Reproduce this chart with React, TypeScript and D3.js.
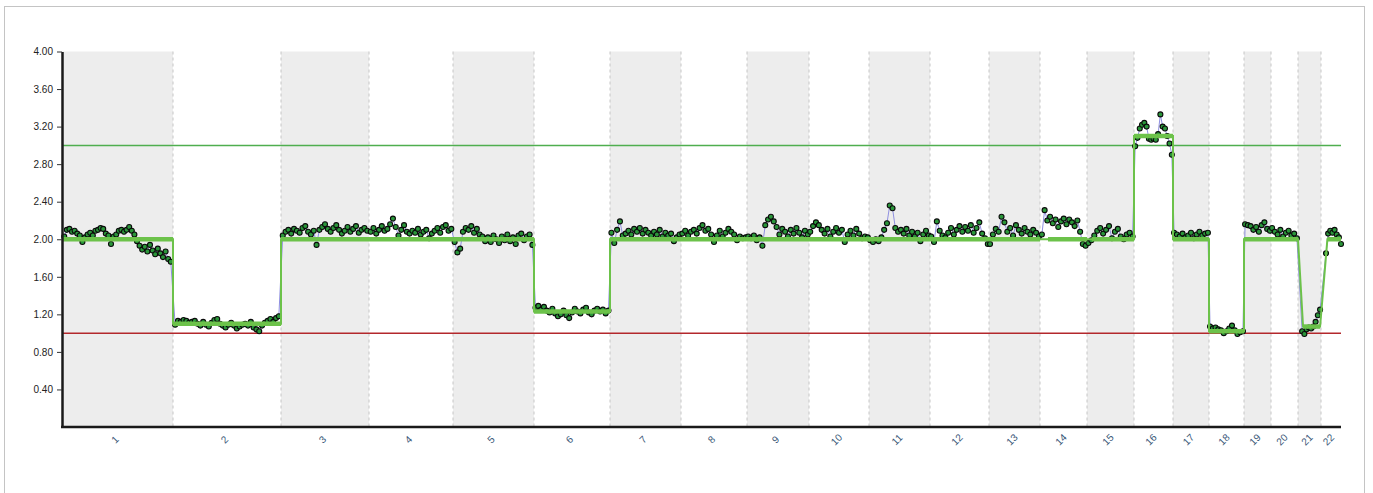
import React, { useEffect, useRef } from "react";
import * as d3 from "d3";

// chromosome names and their relative span on the genome axis
const chromosomes = ["1", "2", "3", "4", "5", "6", "7", "8", "9", "10", "11", "12", "13", "14", "15", "16", "17", "18", "19", "20", "21", "22"];
const chromSpan = [111, 108, 88, 84, 81, 76, 71, 66, 62, 60, 61, 59, 51, 47, 47, 39, 36, 35, 27, 27, 23, 20];

// part of each chromosome that carries probes (fraction of its span)
const probeFrom = [0.02, 0.02, 0.02, 0.02, 0.02, 0.02, 0.02, 0.02, 0.02, 0.02, 0.02, 0.02, 0.02, 0.04, 0.03, 0.03, 0.03, 0.03, 0.04, 0.04, 0.18, 0.25];
const probeTo = [0.98, 0.98, 0.98, 0.98, 0.98, 0.98, 0.98, 0.98, 0.98, 0.98, 0.98, 0.98, 0.98, 0.97, 0.97, 0.97, 0.97, 0.97, 0.96, 0.96, 0.96, 1.0];

// copy number ratio of each probe, per chromosome
const probeRatios: number[][] = [
  [2.03, 2.10, 2.11, 2.08, 2.09, 2.06, 2.04, 1.97, 2.02, 2.05, 2.07, 2.04, 2.09, 2.10, 2.12, 2.11, 2.06, 2.04, 1.95, 2.03, 2.05, 2.09, 2.10, 2.08, 2.10, 2.13, 2.09, 2.05, 1.98, 1.93, 1.89, 1.92, 1.87, 1.94, 1.88, 1.84, 1.90, 1.85, 1.81, 1.87, 1.79, 1.76],
  [1.09, 1.13, 1.12, 1.14, 1.13, 1.11, 1.12, 1.13, 1.10, 1.08, 1.12, 1.09, 1.07, 1.11, 1.14, 1.15, 1.10, 1.08, 1.06, 1.09, 1.11, 1.08, 1.05, 1.07, 1.09, 1.10, 1.08, 1.12, 1.06, 1.04, 1.02, 1.08, 1.11, 1.13, 1.15, 1.12, 1.16, 1.18],
  [2.04, 2.08, 2.10, 2.06, 2.11, 2.09, 2.07, 2.12, 2.14, 2.08, 2.05, 2.09, 1.94, 2.10, 2.13, 2.16, 2.11, 2.08, 2.12, 2.15, 2.10, 2.06, 2.09, 2.13, 2.08, 2.11, 2.14, 2.07, 2.10, 2.12, 2.09],
  [2.08, 2.12, 2.06, 2.10, 2.14, 2.09, 2.11, 2.16, 2.22, 2.13, 2.04, 2.10, 2.15, 2.08, 2.06, 2.09, 2.07, 2.11, 2.05, 2.08, 2.10, 2.01, 2.06, 2.09, 2.12, 2.07, 2.13, 2.15, 2.09, 2.11],
  [1.97, 1.86, 1.90, 2.08, 2.12, 2.10, 2.14, 2.07, 2.11, 2.05, 2.03, 1.98, 2.02, 1.97, 2.04, 2.00, 1.96, 2.03, 1.99, 2.05, 1.98, 2.02, 1.95, 2.04, 2.06, 1.99, 2.03, 2.05, 1.94],
  [1.27, 1.29, 1.25, 1.28, 1.24, 1.22, 1.26, 1.21, 1.18, 1.20, 1.24, 1.19, 1.16, 1.22, 1.26, 1.23, 1.21, 1.25, 1.27, 1.22, 1.20, 1.24, 1.26, 1.23, 1.25, 1.21, 1.24],
  [2.07, 1.96, 2.10, 2.19, 2.04, 2.06, 2.09, 2.05, 2.11, 2.08, 2.12, 2.06, 2.10, 2.07, 2.04, 2.08, 2.05, 2.10, 2.03, 2.07, 2.04, 2.06, 1.98, 2.02, 2.05],
  [2.06, 2.09, 2.04, 2.08, 2.10, 2.06, 2.12, 2.15, 2.09, 2.11, 2.05, 1.97, 2.04, 2.09, 2.03, 2.07, 2.11, 2.08, 2.05, 1.99, 2.03, 2.01, 2.02],
  [2.03, 2.01, 2.04, 1.99, 2.02, 1.93, 2.15, 2.21, 2.24, 2.19, 2.13, 2.05, 2.11, 2.08, 2.03, 2.10, 2.06, 2.12, 2.07, 2.02, 2.09, 2.05],
  [2.08, 2.14, 2.18, 2.15, 2.10, 2.06, 2.11, 2.03, 2.08, 2.12, 2.07, 2.10, 1.97, 2.05, 2.09, 2.04, 2.11, 2.06, 2.01, 2.03, 2.02],
  [1.99, 1.97, 2.00, 1.98, 2.02, 2.10, 2.17, 2.36, 2.33, 2.12, 2.08, 2.10, 2.06, 2.11, 2.04, 2.08, 2.03, 2.07, 1.98, 2.05, 2.09, 2.04],
  [2.03, 1.97, 2.19, 2.09, 2.04, 2.02, 2.07, 2.12, 2.05, 2.10, 2.14, 2.08, 2.13, 2.09, 2.15, 2.07, 2.12, 2.18, 2.06, 2.01, 1.95],
  [1.95, 2.05, 2.11, 2.08, 2.24, 2.18, 2.08, 2.12, 2.04, 2.15, 2.10, 2.06, 2.12, 2.08, 2.05, 2.10, 2.07, 2.03],
  [2.05, 2.31, 2.20, 2.24, 2.17, 2.21, 2.13, 2.19, 2.22, 2.16, 2.21, 2.18, 2.14, 2.20, 2.08, 1.95, 1.93],
  [1.96, 1.99, 2.04, 2.09, 2.12, 2.06, 2.10, 2.14, 2.01, 2.08, 2.11, 2.03, 2.00, 2.05, 2.07, 2.03],
  [2.99, 3.08, 3.18, 3.22, 3.24, 3.20, 3.07, 3.06, 3.07, 3.06, 3.12, 3.33, 3.20, 3.18, 3.10, 3.02, 2.90],
  [2.07, 2.05, 2.03, 2.06, 2.02, 2.04, 2.07, 2.01, 2.05, 2.08, 2.04, 2.06, 2.07],
  [1.07, 1.05, 1.06, 1.04, 1.03, 1.00, 1.02, 1.05, 1.08, 1.03, 0.99, 1.01, 1.02],
  [2.16, 2.15, 2.14, 2.10, 2.13, 2.08, 2.15, 2.18, 2.11, 2.09],
  [2.12, 2.08, 2.05, 2.10, 2.03, 2.07, 2.09, 2.04, 2.06, 2.01],
  [1.02, 0.99, 1.04, 1.06, 1.05, 1.07, 1.12, 1.19, 1.25],
  [1.85, 2.06, 2.09, 2.07, 2.10, 2.05, 2.02, 1.95],
];

// called segments: chromosome, start / end as fraction of the chromosome, copy number
const segments = [
  { chrom: "1", from: 0, to: 1, cn: 2.0 },
  { chrom: "2", from: 0, to: 1, cn: 1.1 },
  { chrom: "3", from: 0, to: 1, cn: 2.0 },
  { chrom: "4", from: 0, to: 1, cn: 2.0 },
  { chrom: "5", from: 0, to: 1, cn: 2.0 },
  { chrom: "6", from: 0, to: 1, cn: 1.23 },
  { chrom: "7", from: 0, to: 1, cn: 2.0 },
  { chrom: "8", from: 0, to: 1, cn: 2.0 },
  { chrom: "9", from: 0, to: 1, cn: 2.0 },
  { chrom: "10", from: 0, to: 1, cn: 2.0 },
  { chrom: "11", from: 0, to: 1, cn: 2.0 },
  { chrom: "12", from: 0, to: 1, cn: 2.0 },
  { chrom: "13", from: 0, to: 1, cn: 2.0 },
  { chrom: "14", from: 0.17, to: 1, cn: 2.0 },
  { chrom: "15", from: 0.1, to: 1, cn: 2.0 },
  { chrom: "16", from: 0, to: 1, cn: 3.1 },
  { chrom: "17", from: 0, to: 1, cn: 2.0 },
  { chrom: "18", from: 0, to: 1, cn: 1.02 },
  { chrom: "19", from: 0, to: 1, cn: 2.0 },
  { chrom: "20", from: 0, to: 1, cn: 2.0 },
  { chrom: "21", from: 0.22, to: 0.96, cn: 1.07 },
  { chrom: "22", from: 0.32, to: 1, cn: 2.0 },
];

const yTicks = [0.4, 0.8, 1.2, 1.6, 2.0, 2.4, 2.8, 3.2, 3.6, 4.0];
const gainLine = 3.0;
const lossLine = 1.0;

const App: React.FC = () => {
  const svgRef = useRef<SVGSVGElement | null>(null);

  useEffect(() => {
    if (!svgRef.current) return;

    const width = 1373;
    const height = 493;
    const margin = { top: 51.5, right: 32, bottom: 66, left: 62 };
    const font = "Arial, 'Liberation Sans', sans-serif";

    d3.select(svgRef.current).selectAll("*").remove();
    const svg = d3
      .select(svgRef.current)
      .attr("width", width)
      .attr("height", height);

    // outer frame
    svg
      .append("rect")
      .attr("x", 4.5)
      .attr("y", 6.5)
      .attr("width", 1360)
      .attr("height", 520)
      .attr("fill", "white")
      .attr("stroke", "#c4c4c4");

    const total = d3.sum(chromSpan);
    const offsets = [0, ...d3.cumsum(chromSpan)];

    const xScale = d3
      .scaleLinear()
      .domain([0, total])
      .range([margin.left, width - margin.right]);

    const yScale = d3
      .scaleLinear()
      .domain([0, 4])
      .range([height - margin.bottom, margin.top]);

    const chromX = (name: string, frac: number) => {
      const i = chromosomes.indexOf(name);
      return xScale(offsets[i] + frac * chromSpan[i]);
    };

    // alternating chromosome bands
    svg
      .selectAll(".band")
      .data(chromosomes)
      .enter()
      .append("rect")
      .attr("x", (_, i) => xScale(offsets[i]))
      .attr("y", yScale(4))
      .attr("width", (_, i) => xScale(offsets[i + 1]) - xScale(offsets[i]))
      .attr("height", yScale(0) - yScale(4))
      .attr("fill", (_, i) => (i % 2 === 0 ? "#ededed" : "none"));

    // dotted separators
    svg
      .selectAll(".sep")
      .data(offsets.slice(1, -1))
      .enter()
      .append("line")
      .attr("x1", (d) => xScale(d))
      .attr("x2", (d) => xScale(d))
      .attr("y1", yScale(4))
      .attr("y2", yScale(0))
      .attr("stroke", "#c6c6c6")
      .attr("stroke-width", 1)
      .attr("stroke-dasharray", "3,3");

    // gain / loss reference lines
    svg
      .append("line")
      .attr("x1", xScale(0))
      .attr("x2", xScale(total))
      .attr("y1", yScale(gainLine))
      .attr("y2", yScale(gainLine))
      .attr("stroke", "#4fae4f")
      .attr("stroke-width", 1.5);
    svg
      .append("line")
      .attr("x1", xScale(0))
      .attr("x2", xScale(total))
      .attr("y1", yScale(lossLine))
      .attr("y2", yScale(lossLine))
      .attr("stroke", "#b3282c")
      .attr("stroke-width", 1.5);

    // probes
    const probes: [number, number][] = [];
    probeRatios.forEach((vals, i) => {
      const n = vals.length;
      vals.forEach((v, j) => {
        const frac = probeFrom[i] + ((probeTo[i] - probeFrom[i]) * j) / Math.max(1, n - 1);
        probes.push([chromX(chromosomes[i], frac), yScale(v)]);
      });
    });

    svg
      .append("path")
      .attr("d", d3.line()(probes))
      .attr("fill", "none")
      .attr("stroke", "#8f8fe0")
      .attr("stroke-width", 1);

    svg
      .selectAll(".probe")
      .data(probes)
      .enter()
      .append("circle")
      .attr("cx", (d) => d[0])
      .attr("cy", (d) => d[1])
      .attr("r", 2.5)
      .attr("fill", "#2a963a")
      .attr("stroke", "#0a0a0a")
      .attr("stroke-width", 1.1);

    // segment connectors (thin) and segments (thick)
    const segPts: [number, number][] = [];
    segments.forEach((s) => {
      segPts.push([chromX(s.chrom, s.from), yScale(s.cn)]);
      segPts.push([chromX(s.chrom, s.to), yScale(s.cn)]);
    });
    svg
      .append("path")
      .attr("d", d3.line()(segPts))
      .attr("fill", "none")
      .attr("stroke", "#6cc24a")
      .attr("stroke-width", 2);

    svg
      .selectAll(".seg")
      .data(segments)
      .enter()
      .append("line")
      .attr("x1", (d) => chromX(d.chrom, d.from))
      .attr("x2", (d) => chromX(d.chrom, d.to))
      .attr("y1", (d) => yScale(d.cn))
      .attr("y2", (d) => yScale(d.cn))
      .attr("stroke", "#6cc24a")
      .attr("stroke-width", 4.5);

    // y axis
    const yAxis = d3
      .axisLeft(yScale)
      .tickValues(yTicks)
      .tickFormat(d3.format(".2f"))
      .tickSize(5)
      .tickPadding(4)
      .tickSizeOuter(0);
    const gy = svg
      .append("g")
      .attr("transform", `translate(${margin.left}, 0)`)
      .call(yAxis);
    gy.select(".domain").attr("stroke", "#1a1a1a").attr("stroke-width", 2.5);
    gy.selectAll(".tick line").attr("stroke", "#333");
    gy.selectAll(".tick text")
      .attr("fill", "#222")
      .style("font-family", font)
      .style("font-size", "10px");

    // x axis line
    svg
      .append("line")
      .attr("x1", margin.left - 1)
      .attr("x2", xScale(total))
      .attr("y1", yScale(0))
      .attr("y2", yScale(0))
      .attr("stroke", "#1a1a1a")
      .attr("stroke-width", 2.5);

    // chromosome labels
    svg
      .selectAll(".xlabel")
      .data(chromosomes)
      .enter()
      .append("text")
      .attr("transform", (_, i) => {
        const cx = xScale(offsets[i] + chromSpan[i] / 2);
        return `translate(${cx}, ${yScale(0) + 15}) rotate(-45)`;
      })
      .attr("text-anchor", "middle")
      .attr("fill", "#3a5878")
      .style("font-family", font)
      .style("font-size", "10px")
      .text((d) => d);
  }, []);

  return (
    <div style={{ position: "absolute", left: 0, top: 0 }}>
      <svg ref={svgRef}></svg>
    </div>
  );
};

export default App;
